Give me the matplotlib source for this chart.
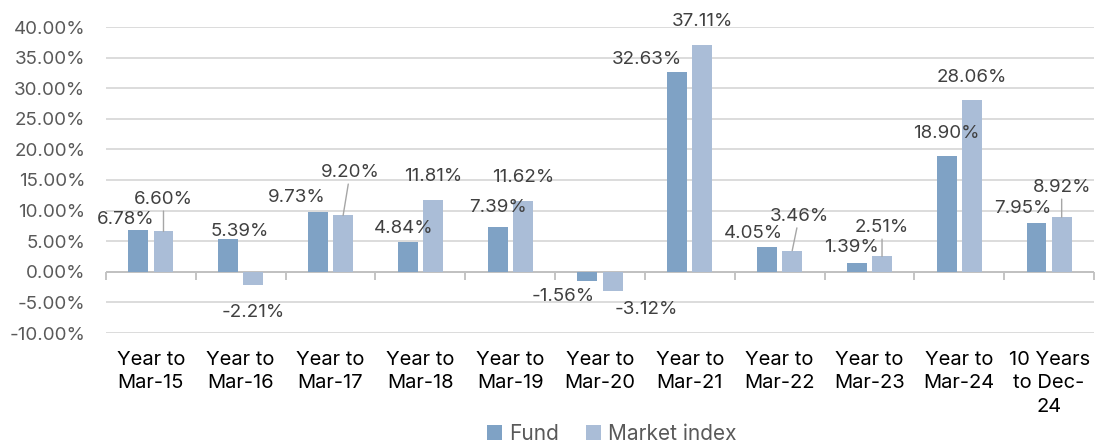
import numpy as np
import matplotlib
matplotlib.use("Agg")
import matplotlib.pyplot as plt
from matplotlib.ticker import FuncFormatter

categories=["Year to\nMar-15","Year to\nMar-16","Year to\nMar-17","Year to\nMar-18","Year to\nMar-19",
            "Year to\nMar-20","Year to\nMar-21","Year to\nMar-22","Year to\nMar-23","Year to\nMar-24",
            "10 Years\nto Dec-\n24"]
fund=[6.78,5.39,9.73,4.84,7.39,-1.56,32.63,4.05,1.39,18.90,7.95]
market=[6.60,-2.21,9.20,11.81,11.62,-3.12,37.11,3.46,2.51,28.06,8.92]
series_names=["Fund","Market index"]

#label offsets in pixels from the end of each bar (dx, dy), and which ones get a leader line
fund_off=[(-13,10.5),(12,7),(-21,15),(-4,14),(0,19),(-24,-15.5),(-30,13),(-14,14),(-5,15.5),(0,23),(-14,15)]
market_off=[(0,31.6),(0,-27.5),(7,42.7),(0,22.7),(0,22.8),(34,-19),(0,23),(7,34),(0,28.6),(0,23),(0,29.4)]
market_leader=[True,False,True,False,False,False,False,True,True,False,True]

plt.rcParams["font.family"]=["Inter","DejaVu Sans"]
c_fund="#7fa2c5"
c_mkt="#aabdd7"
grey_txt="#595959"
lab_txt="#404040"

fig=plt.figure(figsize=(11.03,4.46),dpi=100)
ax=fig.add_axes([106/1103,1-333/446,(1094-106)/1103,(333-27)/446])
x=np.arange(len(categories))
w=0.222
off=0.14
b1=ax.bar(x-off,fund,w,color=c_fund,label=series_names[0],zorder=3)
b2=ax.bar(x+off,market,w,color=c_mkt,label=series_names[1],zorder=3)

ax.set_xlim(-0.5,len(categories)-0.5)
ax.set_ylim(-10,40)
ax.set_yticks(np.arange(-10,41,5))
ax.yaxis.set_major_formatter(FuncFormatter(lambda v,p:"%.2f%%"%v))
ax.grid(axis="y",color="#d9d9d9",linewidth=1.3,zorder=0)
for s in ax.spines.values():
    s.set_visible(False)
ax.tick_params(axis="y",length=0,pad=15,labelsize=13.5,labelcolor=grey_txt)
ax.set_xticks(x)
ax.set_xticklabels(categories,fontsize=14.5,color="black",linespacing=1.38,va="top")
ax.tick_params(axis="x",length=0,pad=13)

#zero line with category boundary ticks
ax.axhline(0,color="#bfbfbf",linewidth=1.3,zorder=2)
sec=ax.secondary_xaxis(0.2)
sec.set_xticks(np.arange(-0.5,len(categories),1))
sec.set_xticklabels([])
sec.tick_params(axis="x",length=6,width=1.3,color="#bfbfbf",direction="out")
sec.spines["bottom"].set_visible(False)

for i in range(len(categories)):
    dx,dy=fund_off[i]
    ax.annotate("%.2f%%"%fund[i],xy=(x[i]-off,fund[i]),xytext=(dx,dy),textcoords="offset pixels",
                ha="center",va="center",fontsize=13.5,color=lab_txt,zorder=5)
    dx,dy=market_off[i]
    ap=None
    if market_leader[i]:
        ap=dict(arrowstyle="-",color="#a6a6a6",lw=1,shrinkA=0,shrinkB=0)
    ax.annotate("%.2f%%"%market[i],xy=(x[i]+off,market[i]),xytext=(dx,dy),textcoords="offset pixels",
                ha="center",va="center",fontsize=13.5,color=lab_txt,zorder=5,arrowprops=ap)

fig.legend(handles=[b1,b2],loc="center",bbox_to_anchor=(612/1103,1-434/446),ncol=2,frameon=False,
           fontsize=15,labelcolor=grey_txt,handlelength=0.7,handleheight=0.7,handletextpad=0.35,
           columnspacing=1.3)
fig.savefig("out.png",dpi=100)
